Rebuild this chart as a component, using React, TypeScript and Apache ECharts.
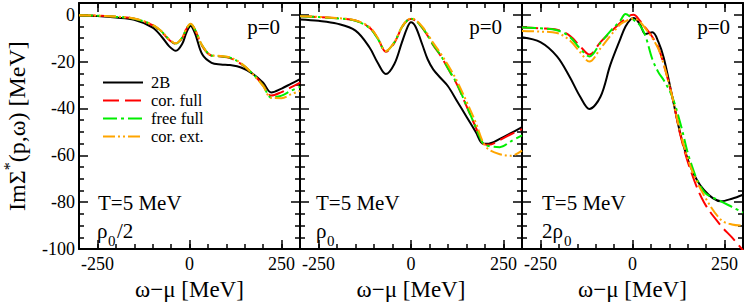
import React, { useEffect, useRef } from "react";
import * as echarts from "echarts";

// ---------- data ----------
const SERIES_NAMES = ["2B", "cor. full", "free full", "cor. ext."];
const X_TICK_LABELS = [-250, 0, 250];
const X_NAME = "ω−μ [MeV]";

// panel 1 : rho0/2
const X1 = [-300, -250, -200, -150, -100, -75, -55, -37, -20, -8, 3, 15, 35, 60, 85, 110, 140, 170, 200, 222, 250, 275, 300];
const P1_2B = [-0.3, -0.6, -1.2, -2.2, -5.5, -9.5, -13.5, -15.4, -12.5, -7.5, -4.8, -8, -17, -20.5, -21.2, -21.5, -22.5, -25, -29, -33.2, -31.5, -29.5, -27.5];
const P1_COR = [-0.2, -0.4, -0.9, -1.7, -4.5, -7.5, -10.8, -12.4, -10, -6, -4, -6.5, -13.5, -17.5, -17.8, -18.5, -21, -25, -30, -34.5, -33, -31, -29];
const P1_FREE = [-0.2, -0.4, -0.9, -1.7, -4.4, -7.3, -10.6, -12.3, -9.8, -5.9, -4, -6.4, -13.3, -17.4, -17.7, -18.3, -20.8, -25, -30.3, -35.3, -34.5, -32.5, -30.8];
const P1_EXT = [-0.2, -0.4, -0.8, -1.6, -4.3, -7.2, -10.5, -12.2, -9.7, -5.8, -3.9, -6.2, -13.2, -17.3, -17.6, -18.2, -20.7, -25, -30.5, -35.5, -35.6, -34, -32.5];

// panel 2 : rho0
const X2 = [-300, -250, -200, -150, -112, -90, -68, -45, -25, -10, 0, 12, 30, 45, 60, 80, 100, 125, 150, 175, 195, 210, 240, 270, 300];
const P2_2B = [-2, -2.6, -3.8, -6.8, -14, -20.5, -25.3, -21, -12, -5.5, -3.2, -5, -12.5, -19, -23.3, -27, -30.5, -37, -43.5, -50, -55, -55, -53, -50.5, -48];
const P2_COR = [-0.7, -1, -1.5, -2.5, -5.5, -10, -15.8, -12, -5.5, -2.5, -1.8, -2.5, -5.5, -9, -13, -17.5, -23, -30, -39, -48, -55, -55.5, -53.5, -51, -48.8];
const P2_FREE = [-0.7, -1, -1.5, -2.6, -5.7, -10.2, -15.6, -11.8, -5.4, -2.4, -1.7, -2.4, -5.4, -8.8, -12.8, -17.3, -22.8, -29.8, -38.8, -48, -55, -56, -56.5, -54, -51.5];
const P2_EXT = [-0.6, -0.9, -1.4, -2.4, -5.3, -9.8, -15.5, -11.7, -5.3, -2.3, -1.6, -2.2, -5, -8.3, -12, -16.5, -21.5, -28.5, -37, -46, -54.5, -57.5, -59.5, -60.2, -58];

// panel 3 : 2 rho0
const X3 = [-300, -250, -205, -170, -142, -117, -87, -60, -33, -19, -5, 3, 20, 35, 54, 70, 85, 108, 131, 158, 194, 240, 270, 300];
const P3_2B = [-9.6, -11.7, -17.8, -26.7, -35, -40.2, -35, -21.3, -10.3, -5, -2, -1.4, -4, -8.2, -7.5, -11.5, -18.5, -35, -51.4, -65, -74.8, -79.6, -78.5, -76.8];
const P3_COR = [-5.5, -5.8, -6.4, -9, -13.5, -17, -11.7, -7.5, -3.4, -1.8, -0.2, 0, -2.5, -5.5, -9.5, -14, -21.3, -35, -52, -66.5, -80, -90, -95, -100.5];
const P3_FREE = [-5.5, -5.8, -6.6, -9.5, -14.5, -17.8, -12, -7, -2.5, 0.3, -1, -2.2, -4.5, -9, -19, -24.5, -28, -35, -47, -63, -75.5, -79.6, -82, -84.4];
const P3_EXT = [-6.9, -7.2, -7.8, -11, -16, -20, -14.4, -9, -4.1, -2.8, -1.8, -1.6, -3, -5.8, -10, -14.5, -21.3, -35, -51, -65, -77, -87.5, -89.5, -90];

const PANELS = [
  { x: X1, ys: [P1_2B, P1_COR, P1_FREE, P1_EXT] },
  { x: X2, ys: [P2_2B, P2_COR, P2_FREE, P2_EXT] },
  { x: X3, ys: [P3_2B, P3_COR, P3_FREE, P3_EXT] },
];

// ---------- styles ----------
const FONT = "'Liberation Serif', 'Times New Roman', serif";
const STYLES = [
  { color: "#000000", type: "solid" as any },
  { color: "#ff0000", type: [16, 6] as any },
  { color: "#00ee00", type: [14, 4, 3, 4] as any },
  { color: "#ffa500", type: [12, 3, 2, 3, 2, 3] as any },
];
const GRIDS = [
  { left: 77, top: 3, width: 223, height: 255 },
  { left: 300, top: 3, width: 222, height: 255 },
  { left: 522, top: 3, width: 221, height: 255 },
];

function buildOption() {
  const xAxis: any[] = [];
  const yAxis: any[] = [];
  const series: any[] = [];
  const line = { show: true, onZero: false, lineStyle: { color: "#000", width: 2 } };
  GRIDS.forEach((_, g) => {
    const base = { type: "value", gridIndex: g, min: -300, max: 300, interval: 50, splitLine: { show: false } };
    xAxis.push({
      ...base,
      position: "bottom",
      axisLine: line,
      axisTick: { show: true, inside: true, length: 5, lineStyle: { color: "#000", width: 1.5 } },
      axisLabel: {
        show: true,
        margin: 6,
        color: "#000",
        fontSize: 18,
        fontFamily: FONT,
        formatter: (v: number) => (X_TICK_LABELS.includes(v) ? String(v) : ""),
      },
      name: X_NAME,
      nameLocation: "middle",
      nameGap: 23,
      nameTextStyle: { color: "#000", fontSize: 23, fontFamily: FONT },
    });
    xAxis.push({
      ...base,
      position: "bottom",
      axisLine: { show: false, onZero: false },
      axisTick: { show: true, inside: true, length: 9, customValues: X_TICK_LABELS, lineStyle: { color: "#000", width: 1.5 } },
      axisLabel: { show: false },
    });
    xAxis.push({
      ...base,
      position: "top",
      axisLine: line,
      axisTick: { show: true, inside: true, length: 5, lineStyle: { color: "#000", width: 1.5 } },
      axisLabel: { show: false },
    });
    xAxis.push({
      ...base,
      position: "top",
      axisLine: { show: false, onZero: false },
      axisTick: { show: true, inside: true, length: 9, customValues: X_TICK_LABELS, lineStyle: { color: "#000", width: 1.5 } },
      axisLabel: { show: false },
    });
    const ybase = {
      type: "value",
      gridIndex: g,
      min: -100,
      max: 5,
      interval: 20,
      splitLine: { show: false },
      axisLine: line,
      axisTick: { show: true, inside: true, length: 9, lineStyle: { color: "#000", width: 1.5 } },
      minorTick: { show: true, splitNumber: 4, length: 5, lineStyle: { color: "#000", width: 1.5 } },
    };
    yAxis.push({
      ...ybase,
      position: "left",
      axisLabel: {
        show: g === 0,
        margin: 4,
        color: "#000",
        fontSize: 18,
        fontFamily: FONT,
        formatter: (v: number) => (v > 0 ? "" : String(v)),
      },
      ...(g === 0
        ? {
            name: "ImΣ{sup|*}(p,ω) [MeV]",
            nameLocation: "middle",
            nameGap: 46,
            nameRotate: 90,
            nameTextStyle: {
              color: "#000",
              fontSize: 24,
              fontFamily: FONT,
              rich: { sup: { fontSize: 16, fontFamily: FONT, color: "#000", padding: [0, 0, 16, 0] } },
            },
          }
        : {}),
    });
    yAxis.push({ ...ybase, position: "right", axisLabel: { show: false } });

    const p = PANELS[g];
    p.ys.forEach((ys, k) => {
      series.push({
        type: "line",
        name: SERIES_NAMES[k],
        xAxisIndex: 4 * g,
        yAxisIndex: 2 * g,
        data: p.x.map((xv, i) => [xv, ys[i]]),
        symbol: "none",
        smooth: 0.35,
        clip: true,
        z: k === 0 ? 3 : 4 + k,
        lineStyle: { color: STYLES[k].color, width: 2, type: STYLES[k].type },
        itemStyle: { color: STYLES[k].color },
      });
    });
  });

  const txt = (text: string, x: number, y: number, align: string, size = 21) => ({
    type: "text",
    x,
    y,
    silent: true,
    style: {
      text,
      fill: "#000",
      fontSize: size,
      fontFamily: FONT,
      align,
      verticalAlign: "middle",
    },
  });

  return {
    animation: false,
    grid: GRIDS.map((g) => ({ ...g, containLabel: false })),
    xAxis,
    yAxis,
    series,
    legend: {
      data: SERIES_NAMES,
      orient: "vertical",
      left: 97,
      top: 69,
      itemWidth: 40,
      itemHeight: 14,
      itemGap: 1,
      itemStyle: { opacity: 0 },
      textStyle: { color: "#000", fontSize: 16.5, fontFamily: FONT, padding: [0, 0, 0, 3] },
      selectedMode: false,
    },
    graphic: [
      txt("p=0", 280, 27, "right"),
      txt("p=0", 502, 27, "right"),
      txt("p=0", 730, 27, "right"),
      txt("T=5 MeV", 98, 203, "left"),
      txt("T=5 MeV", 316, 203, "left"),
      txt("T=5 MeV", 542, 203, "left"),
      // rho0/2
      txt("ρ", 97, 231, "left"),
      txt("0", 108, 241, "left", 15),
      txt("/2", 117, 231, "left"),
      // rho0
      txt("ρ", 316, 231, "left"),
      txt("0", 327, 241, "left", 15),
      // 2 rho0
      txt("2ρ", 542, 231, "left"),
      txt("0", 564, 241, "left", 15),
    ],
  };
}

export default function App() {
  const ref = useRef<HTMLDivElement>(null);
  useEffect(() => {
    if (!ref.current) return;
    const chart = echarts.init(ref.current, undefined, { renderer: "svg" });
    chart.setOption(buildOption() as any);
    return () => chart.dispose();
  }, []);
  return (
    <div
      ref={ref}
      style={{ position: "fixed", left: 0, top: 0, width: 747, height: 306, background: "#fff" }}
    />
  );
}
